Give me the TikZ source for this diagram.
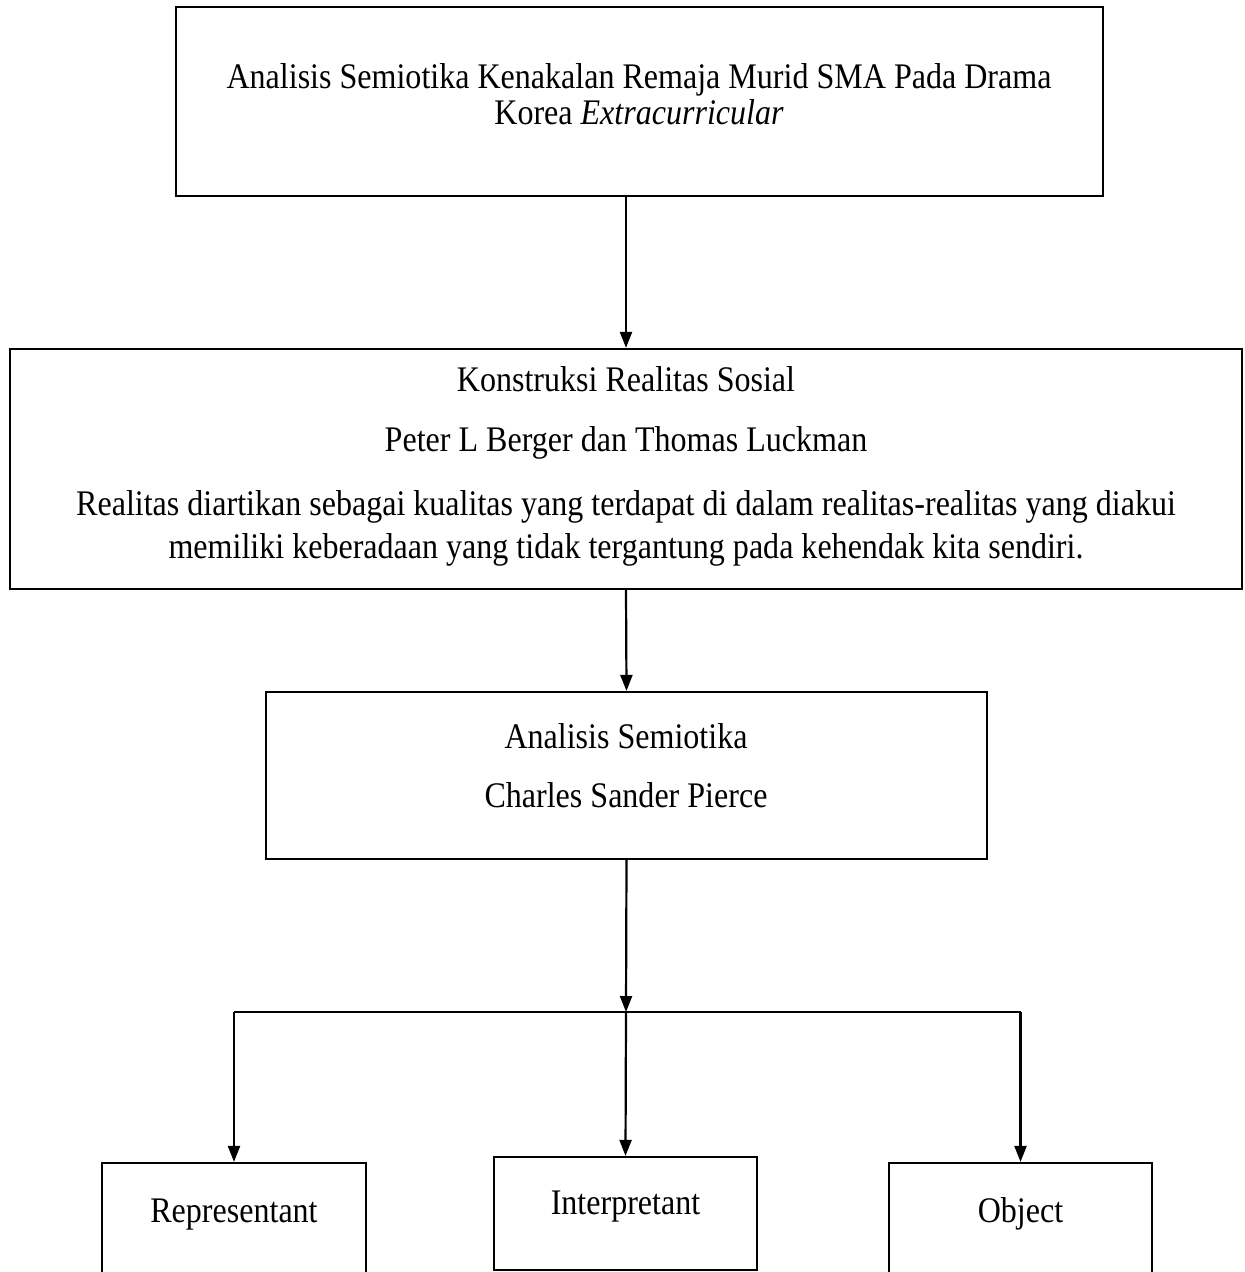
\documentclass[tikz,border=0pt]{standalone}
\usepackage{fontspec}
\setmainfont{Liberation Serif}[FakeStretch=0.89]
\usetikzlibrary{arrows.meta}
\begin{document}
\begin{tikzpicture}[x=1pt,y=-1pt,
  box/.style={draw, line width=2.2pt, inner sep=0pt},
  txt/.style={inner sep=0pt, anchor=base, font=\fontsize{36}{42}\selectfont},
  arr/.style={line width=2.2pt, -{Triangle[length=16pt,width=12pt]}},
  ln/.style={line width=1.6pt}]
\useasboundingbox (0,0) rectangle (1245,1272);
\clip (0,0) rectangle (1245,1272);
% boxes
\node[box, minimum width=927pt, minimum height=189pt] (b1) at (639.5,101.5) {};
\node[box, minimum width=1232pt, minimum height=240pt] (b2) at (626,469) {};
\node[box, minimum width=721pt, minimum height=167pt] (b3) at (626.5,775.5) {};
\node[box, minimum width=264pt, minimum height=137pt] (rep) at (234,1231.5) {};
\node[box, minimum width=263pt, minimum height=113pt] (int) at (625.5,1213.5) {};
\node[box, minimum width=263pt, minimum height=137pt] (obj) at (1020.5,1231.5) {};
% texts
\node[txt] (t1a) at (639,88) {Analisis Semiotika Kenakalan Remaja Murid SMA Pada Drama};
\node[txt] (t1b) at (639,124) {Korea \textit{Extracurricular}};
\node[txt] (t2a) at (626,391) {Konstruksi Realitas Sosial};
\node[txt] (t2b) at (626,451) {Peter L Berger dan Thomas Luckman};
\node[txt] (t2c) at (626,515) {Realitas diartikan sebagai kualitas yang terdapat di dalam realitas-realitas yang diakui};
\node[txt] (t2d) at (626,558) {memiliki keberadaan yang tidak tergantung pada kehendak kita sendiri.};
\node[txt] (t3a) at (626,748) {Analisis Semiotika};
\node[txt] (t3b) at (626,807) {Charles Sander Pierce};
\node[txt] (t4) at (234,1222) {Representant};
\node[txt] (t5) at (625.5,1214) {Interpretant};
\node[txt] (t6) at (1020.5,1222) {Object};
% connectors
\coordinate (s1) at (b1.south -| b2.north);
\coordinate (j) at (626,1012);
\coordinate (jl) at (j -| rep.north);
\coordinate (jr) at (j -| obj.north);
\draw[arr] (s1) -- (b2.north);
\draw[arr] (b2.south) -- (b3.north);
\draw[arr] (b3.south) -- (j);
\draw[ln] (jl) -- (jr);
\draw[arr] (jl) -- (rep.north);
\draw[arr] (j) -- (int.north);
\draw[arr] (jr) -- (obj.north);
\end{tikzpicture}
\end{document}
